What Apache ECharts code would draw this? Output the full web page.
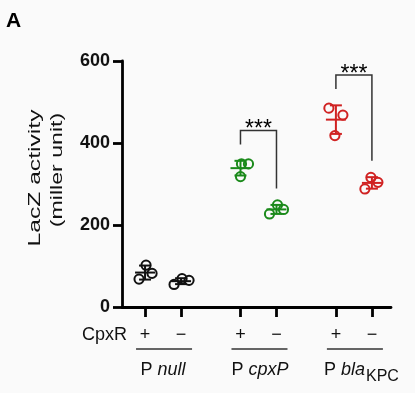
<!DOCTYPE html>
<html><head><meta charset="utf-8">
<script src="https://cdn.jsdelivr.net/npm/echarts@6/dist/echarts.min.js"></script>
<style>html,body{margin:0;padding:0;background:#fafafa}#c{width:415px;height:393px}</style>
</head><body><div id="c"></div>
<script>
// ---- data ----
const promoterNames = ['null', 'cpxP', 'bla'];
const promoterSub = ['', '', 'KPC'];
const cpxRLabels = ['+', '\u2212'];
const nullPlus = [102, 68, 82];
const nullMinus = [55, 69, 65];
const cpxPPlus = [349, 349, 318];
const cpxPMinus = [227, 249, 238];
const blaPlus = [485, 468, 418];
const blaMinus = [316, 304, 288];
const yTicks = [0, 200, 400, 600];
const sigPairs = [[2, 3], [4, 5]];
const sigLabels = ['***', '***'];

// ---- styles / layout ----
const FONT = '"Liberation Sans", Arial, Helvetica, sans-serif';
const groupColors = ['#111111', '#1b8a1b', '#d02222'];
const jitterPx = [[1, -6, 7], [-7, 1, 8], [1, 8, 0], [-7, 1, 7], [-7, 7, -1], [-1, 6, -7]];
const groupStep = 2.65;

const sets = [nullPlus, nullMinus, cpxPPlus, cpxPMinus, blaPlus, blaMinus];
const positions = sets.map((s, i) => Math.floor(i / 2) * groupStep + (i % 2));
const mean = a => a.reduce((s, v) => s + v, 0) / a.length;
const sd = a => { const m = mean(a); return Math.sqrt(a.reduce((s, v) => s + (v - m) * (v - m), 0) / (a.length - 1)); };

const pointData = [];
sets.forEach((s, i) => s.forEach((v, k) => pointData.push([positions[i], v, jitterPx[i][k], Math.floor(i / 2)])));
const meanData = sets.map((s, i) => [positions[i], mean(s), sd(s), Math.floor(i / 2)]);
const upper = i => Math.max(mean(sets[i]) + sd(sets[i]), Math.max.apply(null, sets[i]));
const bracketData = sigPairs.map(([a, b]) => {
  const yl = upper(a) + 40, yr = upper(b) + 40;
  return [positions[a], positions[b], yl, yr, Math.max(yl, yr) + 34];
});

const chart = echarts.init(document.getElementById('c'));
chart.setOption({
  backgroundColor: '#fafafa',
  animation: false,
  grid: { left: 122, right: 24, top: 61, bottom: 86 },
  xAxis: {
    type: 'value', min: -0.64, max: 6.83,
    splitLine: { show: false },
    axisLine: { show: true, onZero: false, lineStyle: { color: '#000', width: 2.8 } },
    axisTick: { show: true, customValues: positions, length: 10, lineStyle: { color: '#000', width: 2.8 } },
    axisLabel: {
      customValues: positions, margin: 19, color: '#111', fontSize: 18, fontFamily: FONT,
      formatter: v => { const i = positions.findIndex(p => Math.abs(p - v) < 1e-6); return i < 0 ? '' : cpxRLabels[i % 2]; }
    }
  },
  yAxis: {
    type: 'value', min: 0, max: 600, interval: 200,
    splitLine: { show: false },
    axisLine: { show: true, onZero: false, lineStyle: { color: '#000', width: 2.8 } },
    axisTick: { show: true, length: 9, lineStyle: { color: '#000', width: 2.8 } },
    axisLabel: { margin: 12, color: '#111', fontSize: 18, fontWeight: 'bold', fontFamily: FONT,
      formatter: v => yTicks.indexOf(v) >= 0 ? String(v) : '' }
  },
  series: [
    {
      type: 'custom', name: 'points', data: pointData, encode: { x: 0, y: 1 },
      renderItem: (params, api) => {
        const p = api.coord([api.value(0), api.value(1)]);
        return { type: 'circle', shape: { cx: p[0] + api.value(2), cy: p[1], r: 4.6 },
          style: { fill: 'none', stroke: groupColors[api.value(3)], lineWidth: 2 } };
      }
    },
    {
      type: 'custom', name: 'meanSD', data: meanData, encode: { x: 0, y: 1 },
      renderItem: (params, api) => {
        const x = api.coord([api.value(0), 0])[0];
        const ym = api.coord([0, api.value(1)])[1];
        const yt = api.coord([0, api.value(1) + api.value(2)])[1];
        const yb = api.coord([0, api.value(1) - api.value(2)])[1];
        const st = { stroke: groupColors[api.value(3)], lineWidth: 2 };
        return { type: 'group', children: [
          { type: 'line', shape: { x1: x - 10, y1: ym, x2: x + 10, y2: ym }, style: st },
          { type: 'line', shape: { x1: x, y1: yt, x2: x, y2: yb }, style: st },
          { type: 'line', shape: { x1: x - 6, y1: yt, x2: x + 6, y2: yt }, style: st },
          { type: 'line', shape: { x1: x - 6, y1: yb, x2: x + 6, y2: yb }, style: st }
        ] };
      }
    },
    {
      type: 'custom', name: 'brackets', data: bracketData, encode: { x: [0, 1], y: [2, 3, 4] },
      renderItem: (params, api) => {
        const xl = api.coord([api.value(0), 0])[0];
        const xr = api.coord([api.value(1), 0])[0];
        const yl = api.coord([0, api.value(2)])[1];
        const yr = api.coord([0, api.value(3)])[1];
        const yt = api.coord([0, api.value(4)])[1];
        return { type: 'group', children: [
          { type: 'polyline', shape: { points: [[xl, yl], [xl, yt], [xr, yt], [xr, yr]] },
            style: { fill: 'none', stroke: '#333', lineWidth: 1.5 } },
          { type: 'text', style: { text: sigLabels[params.dataIndex], x: (xl + xr) / 2, y: yt + 11,
            align: 'center', verticalAlign: 'bottom', font: '23px ' + FONT, fill: '#000' } }
        ] };
      }
    }
  ]
});

// annotations under the axis, positioned through the axis scale
const px = v => chart.convertToPixel({ xAxisIndex: 0 }, v);
const graphics = [
  { type: 'text', x: 6, y: 21, style: { text: 'A', font: 'bold 21px ' + FONT, fill: '#000', align: 'left', verticalAlign: 'middle' } },
  { type: 'text', x: 35, y: 178, rotation: Math.PI / 2, scaleX: 1.45,
    style: { text: 'LacZ activity', font: '17px ' + FONT, fill: '#111', align: 'center', verticalAlign: 'middle' } },
  { type: 'text', x: 57, y: 170, rotation: Math.PI / 2, scaleX: 1.36,
    style: { text: '(miller unit)', font: '17px ' + FONT, fill: '#111', align: 'center', verticalAlign: 'middle' } },
  { type: 'text', x: 127, y: 335, style: { text: 'CpxR', font: '18px ' + FONT, fill: '#111', align: 'right', verticalAlign: 'middle' } }
];
promoterNames.forEach((n, g) => {
  const a = px(positions[2 * g]), b = px(positions[2 * g + 1]);
  graphics.push({ type: 'line', shape: { x1: a - 9, y1: 349, x2: b + 11, y2: 349 }, style: { stroke: '#333', lineWidth: 1.3 } });
  const txt = '{n|P }{i|' + n + '}' + (promoterSub[g] ? '{s|' + promoterSub[g] + '}' : '');
  graphics.push({ type: 'text', x: (a + b) / 2 + [0, 1.5, 7.5][g], y: 370,
    style: { text: txt, align: 'center', verticalAlign: 'middle', fill: '#111',
      rich: {
        n: { fontSize: 18, fontFamily: FONT, fill: '#111' },
        i: { fontSize: 18, fontFamily: FONT, fontStyle: 'italic', fill: '#111' },
        s: { fontSize: 16, fontFamily: FONT, fill: '#111', padding: [13, 0, 0, 1] }
      } } });
});
chart.setOption({ graphic: graphics });
</script></body></html>
